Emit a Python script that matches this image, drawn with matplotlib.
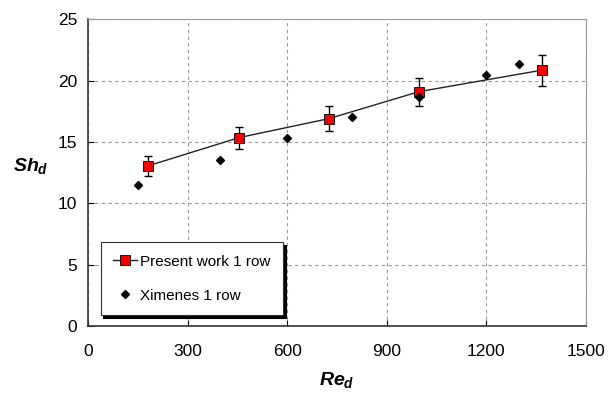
import matplotlib.pyplot as plt

plt.rcParams['font.family'] = ['Liberation Sans', 'DejaVu Sans']
plt.rcParams['mathtext.fontset'] = 'custom'
plt.rcParams['mathtext.it'] = 'Liberation Sans:italic:bold'
plt.rcParams['mathtext.rm'] = 'Liberation Sans:bold'

# present work, 1 row
re_present = [181, 455, 726, 998, 1368]
sh_present = [13.05, 15.35, 16.9, 19.1, 20.85]
sh_err = [0.8, 0.9, 1.0, 1.15, 1.25]

# Ximenes, 1 row
re_ximenes = [149, 399, 600, 796, 997, 1200, 1300]
sh_ximenes = [11.45, 13.5, 15.3, 17.05, 18.7, 20.45, 21.35]

xticks = [0, 300, 600, 900, 1200, 1500]
yticks = [0, 5, 10, 15, 20, 25]

fig = plt.figure(figsize=(6.08, 3.94), dpi=100)
ax = fig.add_axes([0.145, 0.173, 0.818, 0.778])

ax.plot(re_present, sh_present, '-', color='#222222', lw=1.0, zorder=2)
ax.errorbar(re_present, sh_present, yerr=sh_err, fmt='none', ecolor='black',
            elinewidth=1.0, capsize=3, capthick=1.0, zorder=3)
present, = ax.plot(re_present, sh_present, 's', color='#222222', lw=1.0,
                   markerfacecolor='#ee0000', markeredgecolor='black',
                   markeredgewidth=0.6, markersize=6.5, zorder=4)
ximenes, = ax.plot(re_ximenes, sh_ximenes, 'D', color='black', markersize=4.5,
                   linestyle='none', zorder=4)

# legend handle with line through the square
h_present, = ax.plot([], [], '-s', color='#222222', lw=1.0,
                     markerfacecolor='#ee0000', markeredgecolor='black',
                     markeredgewidth=0.6, markersize=6.5)

ax.set_xlim(0, 1500)
ax.set_ylim(0, 25)
ax.set_xticks(xticks)
ax.set_yticks(yticks)
ax.tick_params(direction='in', length=4, labelsize=12.5, colors='black', pad=8)
ax.tick_params(axis='x', pad=13)

ax.grid(True, linestyle=(0, (3, 3)), color='#999999', lw=0.8)
ax.set_axisbelow(True)

for s in ['top', 'right']:
    ax.spines[s].set_color('#999999')
for s in ['left', 'bottom']:
    ax.spines[s].set_color('#333333')
    ax.spines[s].set_linewidth(1.2)

ax.set_xlabel(r'$Re_d$', fontsize=14, labelpad=8)
ax.set_ylabel(r'$Sh_d$', fontsize=14, rotation=0)
ax.yaxis.set_label_coords(-0.115, 0.49)

leg = ax.legend([h_present, ximenes], ['Present work 1 row', 'Ximenes 1 row'],
                loc='lower left', bbox_to_anchor=(0.025, 0.036), fontsize=11,
                frameon=True, fancybox=False, shadow={'color': 'black', 'alpha': 1},
                edgecolor='#333333', handlelength=1.6, handletextpad=0.2,
                labelspacing=1.3, borderpad=0.8, borderaxespad=0)
leg.get_frame().set_linewidth(0.8)

plt.savefig('out.png')
plt.close()
